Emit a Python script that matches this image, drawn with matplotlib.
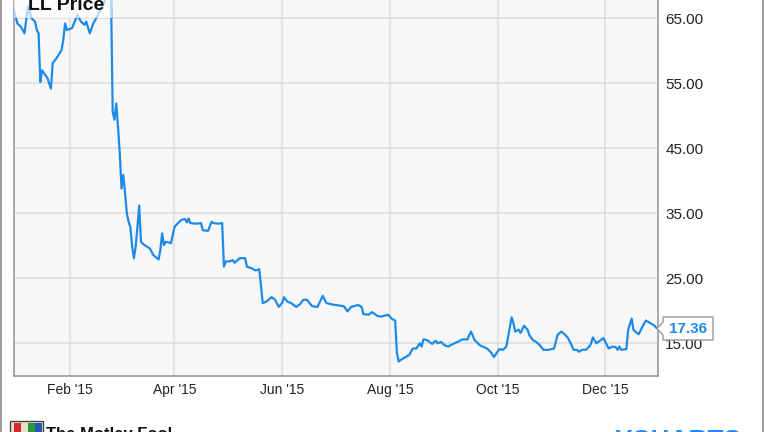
import matplotlib
matplotlib.use('Agg')
import matplotlib.pyplot as plt
from matplotlib.patches import Rectangle, Polygon
from matplotlib.lines import Line2D
import pandas as pd

# LL daily close (day 0 = 2014-12-31)
day_of_year = [0, 2, 4, 6, 8, 10, 12, 13, 14, 15, 16, 19, 21, 22, 24, 27, 28, 29, 30,
               33, 34, 36, 38, 40, 41, 43, 45, 47, 49, 51, 52, 53, 54, 55, 56, 57, 58, 59,
               60, 61, 62, 63, 64, 65, 66, 67, 68, 69, 70, 71, 72, 74, 77, 78, 79, 81, 82,
               83, 84, 85, 86, 88, 89, 91, 93, 95, 97, 98, 99, 100, 103, 106, 107, 110,
               112, 113, 116, 118, 119, 120, 122, 124, 125, 128, 131, 132, 135, 137, 139,
               141, 143, 146, 148, 150, 152, 153, 155, 157, 160, 162, 164, 166, 169, 172,
               175, 177, 180, 182, 187, 189, 191, 195, 197, 198, 201, 203, 206, 208, 212,
               214, 216, 217, 218, 219, 222, 224, 225, 226, 228, 230, 231, 232, 234, 237,
               239, 240, 242, 244, 246, 248, 252, 254, 257, 258, 259, 261, 264, 268, 270,
               272, 275, 277, 279, 280, 282, 283, 284, 286, 287, 288, 289, 291, 292, 294,
               296, 298, 300, 303, 306, 307, 308, 310, 312, 314, 316, 317, 319, 320, 322,
               324, 326, 327, 328, 330, 331, 334, 336, 337, 339, 341, 342, 343, 344, 347,
               348, 350, 351, 352, 354, 356, 358, 360, 363, 364]
price = [66.3, 64.2, 63.7, 62.7, 66.8, 65.0, 64.5, 63.2, 62.7, 55.2, 57.0, 55.8, 54.2, 58.1,
         58.8, 60.1, 61.7, 64.2, 63.2, 63.5, 64.2, 65.5, 64.5, 64.0, 64.5, 62.7, 64.2, 65.2,
         66.3, 67.3, 68.3, 69.5, 70.5, 69.0, 50.6, 49.4, 51.9, 48.3, 44.2, 38.8, 40.9, 38.1,
         35.0, 33.7, 32.9, 29.9, 28.1, 29.9, 32.9, 36.2, 30.6, 30.1, 29.6, 29.1, 28.6, 28.1,
         27.9, 29.4, 31.9, 30.1, 30.6, 30.5, 30.4, 32.9, 33.5, 34.0, 34.1, 33.6, 34.2, 33.5,
         33.4, 33.5, 32.4, 32.3, 33.7, 33.5, 33.4, 33.5, 26.8, 27.6, 27.6, 27.8, 27.4, 28.1,
         28.1, 26.8, 26.5, 26.2, 26.4, 21.2, 21.4, 22.1, 21.7, 20.6, 21.2, 22.1, 21.4, 21.2,
         20.6, 21.0, 21.7, 21.7, 20.7, 20.6, 22.3, 21.2, 21.0, 20.9, 20.7, 19.9, 20.6, 20.9,
         20.6, 19.5, 19.4, 19.8, 19.2, 19.1, 19.4, 18.8, 18.5, 13.5, 12.2, 12.4, 12.9, 13.2,
         13.7, 14.2, 14.2, 15.0, 14.5, 15.6, 15.5, 14.9, 15.4, 15.0, 15.2, 14.7, 14.5, 14.8,
         15.3, 15.6, 15.6, 16.3, 16.8, 15.5, 14.7, 14.2, 13.7, 12.9, 14.1, 14.0, 14.5, 16.0,
         19.0, 18.1, 16.8, 17.1, 16.6, 17.1, 17.7, 17.1, 16.3, 15.5, 15.2, 14.7, 14.0, 14.0,
         14.2, 15.2, 16.3, 16.8, 16.4, 15.8, 14.7, 14.0, 14.0, 13.7, 14.0, 14.0, 14.5, 15.0,
         15.9, 15.0, 15.2, 15.8, 14.7, 14.2, 14.5, 14.4, 14.0, 14.5, 14.0, 14.1, 17.1, 18.8,
         17.1, 16.8, 16.4, 17.5, 18.5, 18.2, 17.7, 17.36]

x_ticks = ['2015-02-01', '2015-04-01', '2015-06-01', '2015-08-01', '2015-10-01', '2015-12-01']
x_tick_labels = ["Feb '15", "Apr '15", "Jun '15", "Aug '15", "Oct '15", "Dec '15"]
y_ticks = [15, 25, 35, 45, 55, 65]
title = 'LL Price'
last_label = '17.36'

W, H = 764, 432
BLUE = '#1e8ae8'
GRID = '#dcdcdc'
FRAME = '#9a9a9a'

plt.rcParams['font.family'] = ['Liberation Sans', 'DejaVu Sans']

dates = pd.Timestamp('2014-12-31') + pd.to_timedelta(day_of_year, unit='D')


def px(x, y):
    # pixel position (from top-left) -> figure fraction
    return (x / W, 1 - y / H)


fig = plt.figure(figsize=(W / 100, H / 100), dpi=100)
fig.patch.set_facecolor('white')

ax = fig.add_axes([13.5 / W, 1 - 376 / H, (658.3 - 13.5) / W, 376 / H])
ax.set_facecolor('#f7f7f7')
ax.plot(dates, price, color=BLUE, lw=1.6, zorder=3)

ax.set_xlim(pd.Timestamp('2014-12-30 19:00'), pd.Timestamp('2015-12-31 02:00'))
ax.set_ylim(9.97, 67.82)

ax.set_xticks(pd.to_datetime(x_ticks))
ax.set_xticklabels(x_tick_labels)
ax.set_yticks(y_ticks)
ax.set_yticklabels([f'{v:.2f}' for v in y_ticks])
ax.yaxis.tick_right()
ax.tick_params(axis='both', length=0, labelcolor='#222222')
ax.tick_params(axis='x', pad=5, labelsize=10)
ax.tick_params(axis='y', pad=5, labelsize=11)

ax.grid(True, color=GRID, lw=1.1)
ax.set_axisbelow(True)
for side in ['left', 'right', 'bottom']:
    ax.spines[side].set_color(FRAME)
    ax.spines[side].set_linewidth(1.2)
ax.spines['top'].set_visible(False)

# faded box behind the title
x0, y0 = px(14, 18)
fig.add_artist(Rectangle((x0, y0), 98 / W, 18 / H, transform=fig.transFigure,
                         fc='white', ec='none', alpha=0.65, zorder=5))
fig.text(*px(28, 10.5), title, fontsize=14, weight='bold', color='#111111',
         va='baseline', ha='left', zorder=6)

# last value flag
flag = [px(657, 328.5), px(663, 322), px(663, 317), px(713, 317),
        px(713, 340), px(663, 340), px(663, 335)]
fig.add_artist(Polygon(flag, closed=True, transform=fig.transFigure,
                       fc='white', ec='#999999', lw=1, zorder=5))
fig.text(*px(688, 329), last_label, fontsize=11, weight='bold', color=BLUE,
         ha='center', va='center', zorder=6)

# outer frame
for xx in [0.8, 763.2]:
    fig.add_artist(Line2D([xx / W, xx / W], [0, 1], transform=fig.transFigure,
                          color='#8c8c8c', lw=1.2))

# footer logos (cut off at the bottom)
lx, ly = px(10, 440)
fig.add_artist(Rectangle((lx, ly), 33 / W, 19 / H, transform=fig.transFigure,
                         fc='#e8e0c8', ec='#444444', lw=1, zorder=5))
for (cx, cw, col) in [(14, 7, '#d8262b'), (28, 7, '#2a9a3a'), (35, 7, '#2557b5')]:
    rx, ry = px(cx, 432)
    fig.add_artist(Rectangle((rx, ry), cw / W, 9 / H, transform=fig.transFigure,
                             fc=col, ec='none', zorder=6))
fig.text(*px(46, 427), 'The Motley Fool', fontsize=12, weight='bold', color='#111111',
         ha='left', va='top')
fig.text(*px(615, 428.5), 'YCHARTS', fontsize=19, weight='bold', color='#1a8cff',
         ha='left', va='top')

fig.savefig('out.png', dpi=100)
